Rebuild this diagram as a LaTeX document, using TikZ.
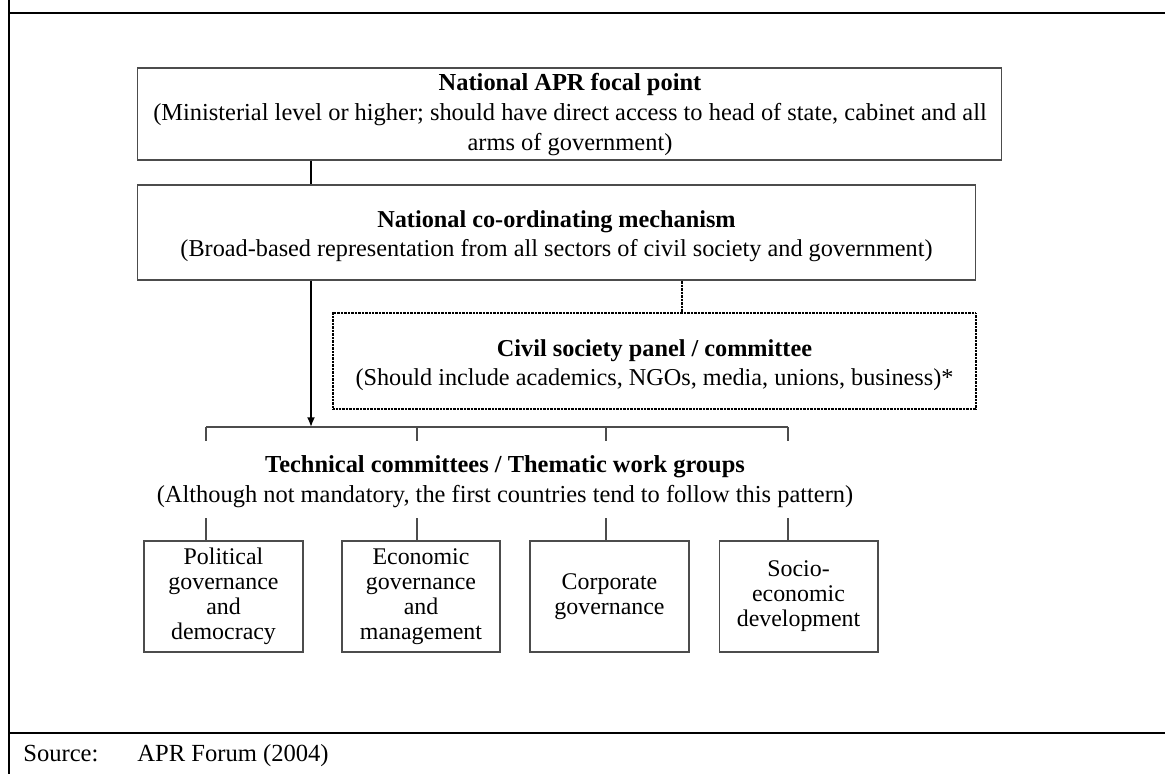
\documentclass[tikz,border=0pt]{standalone}
\usepackage{fontspec}
\setmainfont{Liberation Serif}
\usetikzlibrary{arrows.meta}
\begin{document}
\begin{tikzpicture}[x=0.02cm,y=-0.02cm,
  box/.style={draw=black!70, line width=0.6pt, inner sep=0pt, align=center,
    font=\fontsize{13.8}{16.2}\selectfont},
  smallbox/.style={box, minimum width=3.18cm, minimum height=2.22cm,
    font=\fontsize{13.6}{14.2}\selectfont},
  dotbox/.style={box, draw=black, line width=1.1pt, dash pattern=on 0.45pt off 0.35pt},
  txt/.style={inner sep=0pt, align=center, font=\fontsize{13.9}{17.2}\selectfont},
  boxtxt/.style={inner sep=0pt, align=center, font=\fontsize{13.8}{16.2}\selectfont},
  frameline/.style={line width=1.5pt},
  link/.style={draw=black!70, line width=0.6pt},
  strong/.style={draw=black, line width=0.9pt},
  dotlink/.style={draw=black, line width=1.1pt, dash pattern=on 0.45pt off 0.35pt}]
\useasboundingbox (0,0) rectangle (1165,774);

% outer frame
\draw[frameline] (9,0) -- (9,774);
\draw[frameline] (9,13) -- (1165,13);
\draw[frameline] (9,733) -- (1165,733);

% main boxes
\node[box, minimum width=17.3cm, minimum height=1.84cm] (focal) at (569.5,114) {};
\node[txt] (focaltext) at (570,114.5) {\textbf{National APR focal point}\\(Ministerial level or higher; should have direct access to head of state, cabinet and all\\arms of government)};

\node[box, minimum width=16.78cm, minimum height=1.9cm] (ncm) at (556.5,232.5) {};
\node[boxtxt] (ncmtext) at (556.5,236) {\textbf{National co-ordinating mechanism}\\(Broad-based representation from all sectors of civil society and government)};

\node[dotbox, minimum width=12.86cm, minimum height=1.92cm] (csp) at (654.5,361) {};
\node[boxtxt] (csptext) at (654.5,365) {\textbf{Civil society panel / committee}\\(Should include academics, NGOs, media, unions, business)*};

\node[txt] (tech) at (505,482) {\textbf{Technical committees / Thematic work groups}\\(Although not mandatory, the first countries tend to follow this pattern)};

% lower boxes
\node[smallbox] (pol) at (223.5,596.5) {Political\\governance\\and\\democracy};
\node[smallbox, minimum width=3.16cm] (eco) at (421,596.5) {Economic\\governance\\and\\management};
\node[smallbox] (cor) at (609.5,596.5) {Corporate\\governance};
\node[smallbox] (soc) at (798.5,596.5) {Socio-\\economic\\development};

% connector coordinates
\coordinate (c1) at (311,0);
\coordinate (c2) at (682,0);
\coordinate (busL) at (206,427);
\coordinate (busR) at (788,427);
\coordinate (t1) at (206,441);
\coordinate (t2) at (417,441);
\coordinate (t3) at (606,441);
\coordinate (t4) at (788,441);
\coordinate (u1) at (206,518);
\coordinate (u2) at (417,518);
\coordinate (u3) at (606,518);
\coordinate (u4) at (788,518);

% connectors
\draw[strong] (focal.south -| c1) -- (ncm.north -| c1);
\draw[strong, -{Latex[length=5.5pt,width=4.5pt]}] (ncm.south -| c1) -- (busL -| c1);
\draw[dotlink] (ncm.south -| c2) -- (csp.north -| c2);
\draw[link] (busL) -- (busR);
\draw[link] (t1 |- busL) -- (t1);
\draw[link] (t2 |- busL) -- (t2);
\draw[link] (t3 |- busL) -- (t3);
\draw[link] (t4 |- busL) -- (t4);
\draw[link] (u1) -- (u1 |- pol.north);
\draw[link] (u2) -- (u2 |- eco.north);
\draw[link] (u3) -- (u3 |- cor.north);
\draw[link] (u4) -- (u4 |- soc.north);

% source line
\node[txt, anchor=base west, font=\fontsize{14}{16}\selectfont] (srclabel) at (23,761) {Source:};
\node[txt, anchor=base west, font=\fontsize{14}{16}\selectfont] (srctext) at (137,761) {APR Forum (2004)};
\end{tikzpicture}
\end{document}
